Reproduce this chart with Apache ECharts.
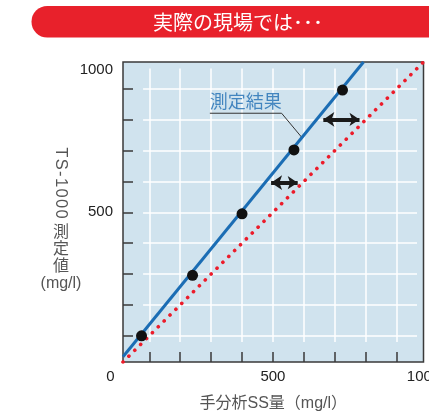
<!DOCTYPE html>
<html><head><meta charset="utf-8">
<script src="https://cdn.jsdelivr.net/npm/echarts@6/dist/echarts.min.js"></script>
<style>html,body{margin:0;padding:0;background:#fff}#c{width:429px;height:416px}</style>
</head><body><div id="c"></div>
<script>
// ---- data ----
const titleText = '実際の現場では･･･';
const xName = '手分析SS量（mg/l）';
const yNameLatin = 'T\u200AS\u200A-\u200A1\u200A0\u200A0\u200A0';
const yNameCJK = '測\n定\n値';
const yNameUnit = '(mg/l)';
const axisMin = 15, axisMax = 987;
const tickVals = [100, 200, 300, 400, 500, 600, 700, 800, 900];
const gridLineFrom = 80, gridLineTo = 966;
const xLabelAt = [15, 500, 987];
const xLabelText = ['0', '500', '1000'];
const yLabelAt = [500, 987];
const yLabelText = ['500', '1000'];
// measurements (manual analysis SS vs TS-1000 value)
const measX = [75, 240, 400, 568, 725];
const measY = [100, 296, 495, 702, 896];
// fitted line through measurements
const fitX = [15, 793];
const fitY = [32, 987];
// 1:1 reference line
const refX = [15, 987];
const refY = [15, 987];
// double-headed arrows (x from, x to, y)
const arrowX1 = [663, 494];
const arrowX2 = [780, 580];
const arrowY = [801, 596];
// leader line for label
const leaderX = [296, 528, 593];
const leaderY = [821, 821, 743];
const calloutText = '測定結果';

const zip = (a, b) => a.map((v, i) => [v, b[i]]);
const gridLines = [];
tickVals.forEach(v => {
  gridLines.push({coords: [[v, gridLineFrom], [v, gridLineTo]]});
  gridLines.push({coords: [[gridLineFrom, v], [gridLineTo, v]]});
});
const arrows = arrowY.map((y, i) => ({coords: [[arrowX1[i], y], [arrowX2[i], y]]}));

const FONT = "'Liberation Sans', 'Noto Sans CJK JP', sans-serif";
const CJK = "'Noto Sans CJK JP', sans-serif";
const chart = echarts.init(document.getElementById('c'), null, {renderer: 'canvas'});
const axisCommon = {
  type: 'value', min: axisMin, max: axisMax,
  axisLine: {show: false},
  splitLine: {show: false},
  axisTick: {show: true, inside: true, length: 10, customValues: tickVals,
    lineStyle: {color: '#3a3a3a', width: 1.5}},
};
chart.setOption({
  animation: false,
  textStyle: {fontFamily: FONT},
  grid: {left: 123, right: 5.5, top: 62, bottom: 54, show: true,
    backgroundColor: '#d0e3ee', borderColor: '#3a3a3a', borderWidth: 1.5,
    containLabel: false, outerBoundsMode: 'none'},
  xAxis: Object.assign({}, axisCommon, {
    name: xName, nameLocation: 'middle', nameGap: 34,
    nameTextStyle: {fontSize: 16, color: '#555', fontFamily: FONT},
    axisLabel: {customValues: xLabelAt, margin: 7, fontSize: 15, color: '#222',
      fontFamily: FONT,
      formatter: v => {
        const t = xLabelText[xLabelAt.indexOf(v)];
        return v === xLabelAt[0] ? '{z|' + t + '}' : t;
      },
      rich: {z: {fontSize: 15, color: '#222', fontFamily: FONT, padding: [0, 25, 0, 0]}}}
  }),
  yAxis: Object.assign({}, axisCommon, {
    axisLabel: {customValues: yLabelAt, margin: 10, fontSize: 15, color: '#222',
      fontFamily: FONT,
      formatter: v => {
        const t = yLabelText[yLabelAt.indexOf(v)];
        return v === yLabelAt[1] ? '{t|' + t + '}' : t;
      },
      rich: {t: {fontSize: 15, color: '#222', fontFamily: FONT, padding: [16, 0, 0, 0]}}}
  }),
  graphic: [
    {type: 'rect', shape: {x: 31.5, y: 6, width: 420, height: 31.5, r: [15.75, 0, 0, 15.75]},
      style: {fill: '#e8212b'}},
    {type: 'text', x: 238, y: 22, style: {text: titleText, fill: '#fff', fontSize: 20,
      fontFamily: CJK, textAlign: 'center', textVerticalAlign: 'middle'}},
    {type: 'text', x: 61, y: 183, rotation: -Math.PI / 2, style: {text: yNameLatin, fill: '#555',
      fontSize: 16.5, fontFamily: FONT, textAlign: 'center', textVerticalAlign: 'middle'}},
    {type: 'text', x: 61, y: 248, style: {text: yNameCJK, fill: '#555', fontSize: 16, lineHeight: 17,
      fontFamily: CJK, textAlign: 'center', textVerticalAlign: 'middle'}},
    {type: 'text', x: 61, y: 284, style: {text: yNameUnit, fill: '#555', fontSize: 16,
      fontFamily: FONT, textAlign: 'center', textVerticalAlign: 'middle'}}
  ],
  series: [
    {type: 'lines', coordinateSystem: 'cartesian2d', z: 1, silent: true,
      lineStyle: {color: '#ffffff', width: 1.5, opacity: 1}, data: gridLines},
    {type: 'line', data: zip(refX, refY), symbol: 'none', z: 2,
      lineStyle: {color: '#ec1c2a', width: 3.6, type: [0.1, 8.2], cap: 'round'}},
    {type: 'line', data: zip(fitX, fitY), symbol: 'none', z: 3,
      lineStyle: {color: '#1b6db4', width: 3}},
    {type: 'lines', coordinateSystem: 'cartesian2d', polyline: true, z: 3, silent: true,
      lineStyle: {color: '#333', width: 1, opacity: 1}, data: [{coords: zip(leaderX, leaderY)}]},
    {type: 'lines', coordinateSystem: 'cartesian2d', z: 4, silent: true,
      symbol: ['arrow', 'arrow'], symbolSize: [11, 10],
      lineStyle: {color: '#1a1a1a', width: 4, opacity: 1}, data: arrows},
    {type: 'scatter', data: zip(measX, measY), symbol: 'circle', symbolSize: 11, z: 5,
      itemStyle: {color: '#111', opacity: 1}},
    {type: 'scatter', data: [[(leaderX[0] + leaderX[1]) / 2, leaderY[0]]], symbolSize: 0, z: 5,
      silent: true,
      label: {show: true, position: 'top', distance: 3, formatter: calloutText, fontSize: 18,
        color: '#1e6db3', fontFamily: CJK}}
  ]
});
</script></body></html>
